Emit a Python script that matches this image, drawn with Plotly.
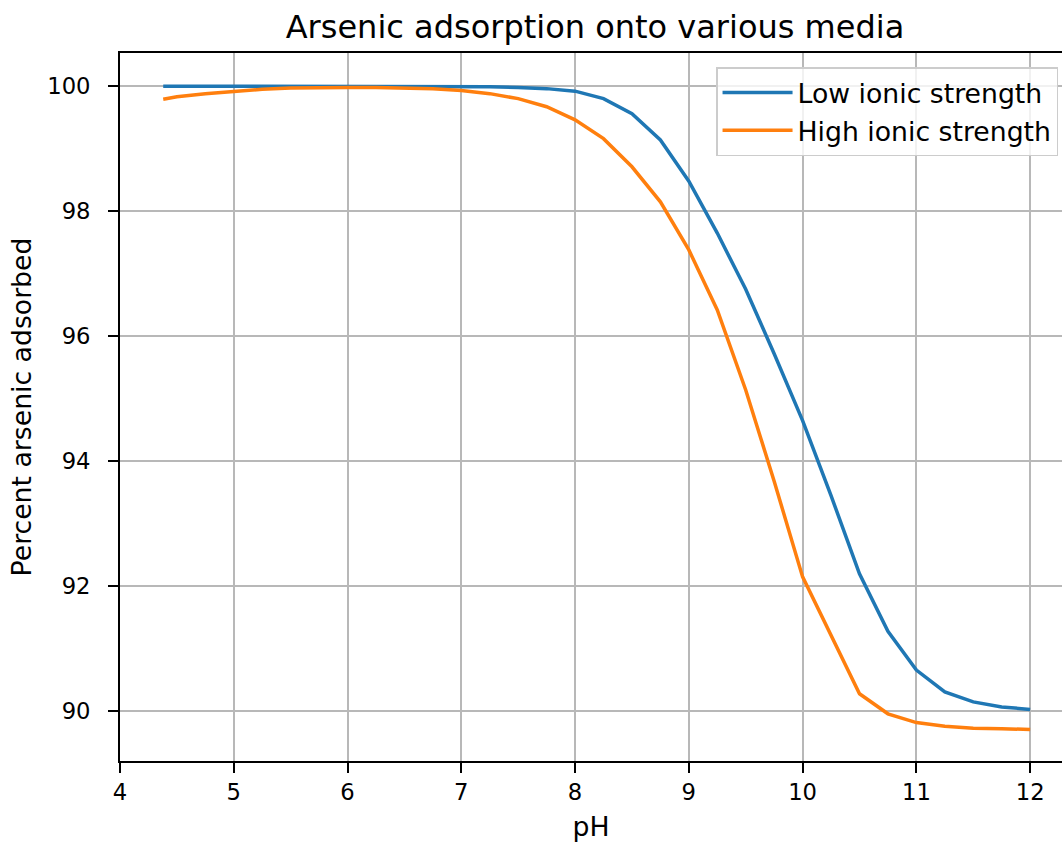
import plotly.graph_objects as go

ph = [4.38, 4.5, 4.75, 5.0, 5.25, 5.5, 5.75, 6.0, 6.25, 6.5, 6.75, 7.0, 7.25, 7.5, 7.75,
      8.0, 8.25, 8.5, 8.75, 9.0, 9.25, 9.5, 9.75, 10.0, 10.25, 10.5, 10.75, 11.0,
      11.25, 11.5, 11.75, 12.0]

low_ionic = [100.0, 100.0, 100.0, 100.0, 100.0, 100.0, 100.0, 100.0, 100.0, 100.0, 100.0,
             100.0, 99.99, 99.98, 99.96, 99.92, 99.80, 99.56, 99.14, 98.48, 97.65, 96.75,
             95.72, 94.65, 93.45, 92.2, 91.28, 90.66, 90.31, 90.15, 90.07, 90.03]

high_ionic = [99.79, 99.83, 99.88, 99.92, 99.95, 99.97, 99.98, 99.98, 99.98, 99.97, 99.96,
              99.93, 99.88, 99.80, 99.67, 99.46, 99.16, 98.71, 98.15, 97.38, 96.42, 95.14,
              93.68, 92.15, 91.2, 90.28, 89.96, 89.82, 89.76, 89.73, 89.72, 89.71]

x_ticks = [4, 5, 6, 7, 8, 9, 10, 11, 12]
y_ticks = [90, 92, 94, 96, 98, 100]

series_names = ["Low ionic strength", "High ionic strength"]
colors = ["#1f77b4", "#ff7f0e"]

FONT = "DejaVu Sans"
TICK_SIZE = 22.7
LABEL_SIZE = 26.7

fig = go.Figure()
for name, ys, c in zip(series_names, [low_ionic, high_ionic], colors):
    fig.add_trace(go.Scatter(x=ph, y=ys, mode="lines", name=name,
                             line=dict(color=c, width=3.5)))

axis_common = dict(
    showline=True, linecolor="black", linewidth=1.8,
    ticks="outside", ticklen=10, tickwidth=1.8, tickcolor="black",
    showgrid=True, gridcolor="#b8b8b8", gridwidth=1.6,
    zeroline=False,
    tickfont=dict(family=FONT, size=TICK_SIZE, color="black"),
)

fig.update_layout(
    width=1062, height=844,
    margin=dict(l=120, r=0, t=53, b=83),
    paper_bgcolor="white", plot_bgcolor="white",
    font=dict(family=FONT, color="black"),
    title=dict(text="Arsenic adsorption onto various media",
               font=dict(family=FONT, size=32, color="black"),
               x=595 / 1062, xanchor="center",
               y=1 - 27 / 844, yanchor="middle", yref="container"),
    xaxis=dict(axis_common, range=[4.0, 12.28], tickvals=x_ticks,
               mirror=True,
               title=dict(text="pH", font=dict(family=FONT, size=LABEL_SIZE, color="black"),
                          standoff=13)),
    yaxis=dict(axis_common, range=[89.205, 100.53], tickvals=y_ticks,
               ticklabelstandoff=13,
               title=dict(text="Percent arsenic adsorbed",
                          font=dict(family=FONT, size=LABEL_SIZE, color="black"), standoff=8)),
    legend=dict(x=0.9958, y=0.980, xanchor="right", yanchor="top", itemwidth=70,
                bgcolor="rgba(255,255,255,0.8)", bordercolor="#cccccc", borderwidth=1.5,
                font=dict(family=FONT, size=LABEL_SIZE, color="black")),
)

fig.write_html("out.html")
